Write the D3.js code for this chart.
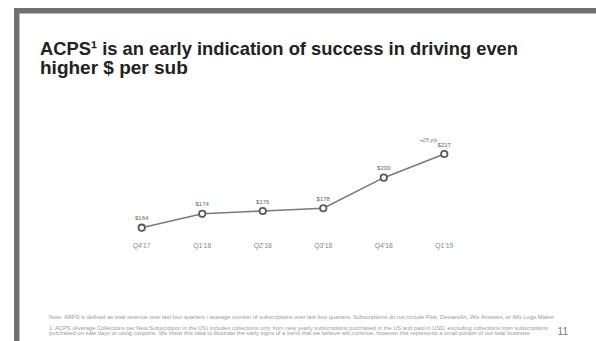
<!DOCTYPE html>
<html>
<head>
<meta charset="utf-8">
<script src="https://cdn.jsdelivr.net/npm/d3@7"></script>
<style>
  html, body { margin: 0; padding: 0; background: #fff; }
  svg { display: block; }
  text { font-family: "Liberation Sans", Arial, Helvetica, sans-serif; }
  .xaxis { opacity: 0.99; }
  .xaxis text { fill: #888888; }
</style>
</head>
<body>
<script>
// Quarterly ACPS values (USD)
const quarters = ["Q4'17", "Q1'18", "Q2'18", "Q3'18", "Q4'18", "Q1'19"];
const acps = [164, 174, 176, 178, 200, 217];
const valueLabels = ["$164", "$174", "$176", "$178", "$200", "$217"];
const growthNote = "+25 y/y";

const titleLines = [
  "ACPS\u00B9 is an early indication of success in driving even",
  "higher $ per sub"
];
const noteLine = "Note: ARPS is defined as total revenue over last four quarters / average number of subscriptions over last four quarters. Subscriptions do not include Flok, DeviantArt, Wix Answers, or Wix Logo Maker.";
const footLines = [
  "1: ACPS (Average Collections per New Subscription in the US) includes collections only from new yearly subscriptions purchased in the US and paid in USD, excluding collections from subscriptions",
  "purchased on sale days or using coupons. We show this data to illustrate the early signs of a trend that we believe will continue, however this represents a small portion of our total business"
];
const pageNumber = "11";

const W = 596, H = 341;
const svg = d3.select("body").append("svg").attr("width", W).attr("height", H);

// slide frame: grey bands on top and left
svg.append("rect").attr("x", 14).attr("y", 8).attr("width", W - 14).attr("height", 5.5).attr("fill", "#707070");
svg.append("rect").attr("x", 14).attr("y", 8).attr("width", 5.5).attr("height", H - 8).attr("fill", "#707070");

// title
const title = svg.append("text").attr("x", 40).attr("fill", "#222")
  .attr("font-weight", "bold").attr("font-size", 19);
title.append("tspan").attr("x", 40).attr("y", 55)
  .attr("textLength", 478).attr("lengthAdjust", "spacingAndGlyphs").text(titleLines[0]);
title.append("tspan").attr("x", 40).attr("y", 74).text(titleLines[1]);

// scales
const x = d3.scalePoint().domain(quarters).range([141.7, 444.3]);
const y = d3.scaleLinear().domain([164, 217]).range([227.7, 154]);

// x axis: labels only, placed by x attribute
const xAxis = d3.axisBottom(x).tickSize(0).tickPadding(0).offset(0);
const gx = svg.append("g").attr("class", "xaxis").call(xAxis);
gx.attr("fill", null).attr("font-family", null).attr("font-size", 6.8);
gx.select(".domain").remove();
gx.selectAll(".tick").attr("transform", null);
gx.selectAll(".tick text").attr("fill", null)
  .attr("x", d => x(d)).attr("y", 247.5).attr("dy", null);

const pts = quarters.map((q, i) => ({ q, v: acps[i], label: valueLabels[i] }));

// line
svg.append("path").datum(pts)
  .attr("fill", "none").attr("stroke", "#7a7a7a").attr("stroke-width", 1.6)
  .attr("d", d3.line().x(d => x(d.q)).y(d => y(d.v)));

// markers
svg.selectAll("circle.pt").data(pts).join("circle").attr("class", "pt")
  .attr("cx", d => x(d.q)).attr("cy", d => y(d.v)).attr("r", 3.2)
  .attr("fill", "#fff").attr("stroke", "#5a5a5a").attr("stroke-width", 1.8);

// value labels
svg.selectAll("text.val").data(pts).join("text").attr("class", "val")
  .attr("x", d => x(d.q)).attr("y", d => y(d.v) - 7.5)
  .attr("text-anchor", "middle").attr("fill", "#666").attr("font-size", 6).text(d => d.label);

// growth annotation
svg.append("text").attr("x", x(quarters[5]) - 7).attr("y", y(acps[5]) - 12.5)
  .attr("text-anchor", "end").attr("fill", "#777").attr("font-size", 5.5)
  .attr("font-style", "italic").text(growthNote);

// footnotes
svg.append("text").attr("x", 49).attr("y", 318.5).attr("fill", "#9a9a9a").attr("font-size", 5)
  .attr("textLength", 506).attr("lengthAdjust", "spacingAndGlyphs").text(noteLine);
svg.append("text").attr("x", 49).attr("y", 330).attr("fill", "#9a9a9a").attr("font-size", 5)
  .attr("textLength", 499).attr("lengthAdjust", "spacingAndGlyphs").text(footLines[0]);
svg.append("text").attr("x", 49).attr("y", 335).attr("fill", "#9a9a9a").attr("font-size", 5)
  .attr("textLength", 481).attr("lengthAdjust", "spacingAndGlyphs").text(footLines[1]);
svg.append("text").attr("x", 568).attr("y", 335).attr("text-anchor", "end")
  .attr("fill", "#777").attr("font-size", 10).text(pageNumber);
</script>
</body>
</html>
